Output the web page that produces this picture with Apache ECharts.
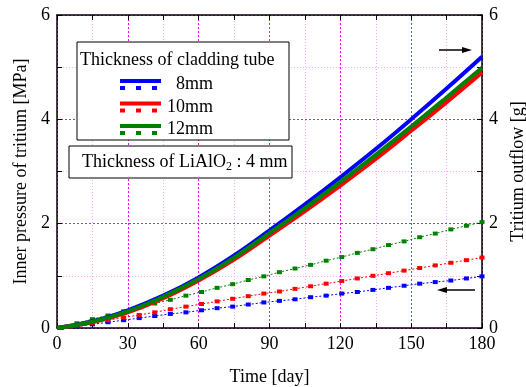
<!DOCTYPE html>
<html>
<head>
<meta charset="utf-8">
<script src="https://cdn.jsdelivr.net/npm/echarts@6/dist/echarts.min.js"></script>
<style>
  html, body { margin: 0; padding: 0; background: #fff; }
  #chart { width: 526px; height: 387px; }
</style>
</head>
<body>
<div id="chart"></div>
<script>
// tritium outflow [g] (solid lines, right axis)
const outflowDays = [0, 15, 30, 45, 60, 75, 90, 105, 120, 135, 150, 165, 180];
const outflow8 = [0, 0.13, 0.34, 0.62, 0.97, 1.39, 1.87, 2.37, 2.89, 3.43, 4.00, 4.59, 5.20];
const outflow10 = [0, 0.11, 0.30, 0.57, 0.91, 1.31, 1.77, 2.24, 2.73, 3.24, 3.78, 4.33, 4.90];
const outflow12 = [0, 0.12, 0.32, 0.60, 0.94, 1.35, 1.82, 2.30, 2.80, 3.32, 3.86, 4.42, 4.99];

// inner pressure [MPa] (dotted lines with square markers, left axis)
const pressureDays = [1.8, 8.4, 15, 21.6, 28.2, 34.8, 41.4, 48, 54.6, 61.2, 67.8, 74.4, 81, 87.6,
  94.2, 100.8, 107.4, 114, 120.6, 127.2, 133.8, 140.4, 147, 153.6, 160.2, 166.8, 173.4, 180];
const pressure8 = [0, 0.03, 0.07, 0.11, 0.15, 0.19, 0.23, 0.27, 0.30, 0.34, 0.38, 0.41, 0.45, 0.49,
  0.52, 0.55, 0.59, 0.62, 0.66, 0.69, 0.73, 0.77, 0.81, 0.85, 0.88, 0.91, 0.95, 0.99];
const pressure10 = [0, 0.05, 0.10, 0.15, 0.20, 0.25, 0.30, 0.36, 0.41, 0.46, 0.51, 0.56, 0.61, 0.66,
  0.70, 0.75, 0.80, 0.85, 0.90, 0.95, 1.00, 1.05, 1.10, 1.15, 1.20, 1.25, 1.30, 1.35];
const pressure12 = [0.01, 0.09, 0.17, 0.24, 0.32, 0.39, 0.47, 0.54, 0.62, 0.69, 0.77, 0.84, 0.92, 0.99,
  1.07, 1.14, 1.21, 1.29, 1.36, 1.44, 1.51, 1.59, 1.66, 1.74, 1.81, 1.89, 1.96, 2.03];

const thicknessLabels = ['8mm', '10mm', '12mm'];
const colors = ['#0000ff', '#ff0000', '#008000'];

const FONT = "'Liberation Serif', 'Times New Roman', serif";

const pair = (xs, ys) => xs.map((x, i) => [x, ys[i]]);

const majorGrid = { show: true, lineStyle: { color: '#ff00ff', type: [2, 2], width: 1 } };
const minorGrid = { show: true, lineStyle: { color: '#ffa8ff', type: [1, 2], width: 1 } };
const tick = { show: true, inside: true, length: 5, lineStyle: { color: '#000', width: 1 } };
const minor = { show: true, splitNumber: 2, length: 5, lineStyle: { color: '#000' } };
const axisLine = { show: true, onZero: false, lineStyle: { color: '#000', width: 1.5 } };
const label = { color: '#000', fontFamily: FONT, fontSize: 18 };
const nameStyle = { color: '#000', fontFamily: FONT, fontSize: 18 };

const chart = echarts.init(document.getElementById('chart'));

const solidSeries = [outflow8, outflow10, outflow12].map((d, i) => ({
  name: thicknessLabels[i] + ' outflow',
  type: 'line',
  yAxisIndex: 1,
  data: pair(outflowDays, d),
  smooth: 0.4,
  symbol: 'none',
  lineStyle: { color: colors[i], width: 4 },
  z: 3
}));

const dottedSeries = [pressure8, pressure10, pressure12].map((d, i) => ({
  name: thicknessLabels[i] + ' pressure',
  type: 'line',
  yAxisIndex: 0,
  data: pair(pressureDays, d),
  symbol: 'rect',
  symbolSize: [5, 4],
  itemStyle: { color: colors[i] },
  lineStyle: { color: colors[i], width: 1, type: [2, 2] },
  z: 2
}));

// legend boxes drawn with graphic elements
const legendGraphics = [
  { type: 'rect', shape: { x: 77, y: 42, width: 212, height: 98 },
    style: { fill: '#fff', stroke: '#000', lineWidth: 1 }, z: 10 },
  { type: 'text', x: 80, y: 60,
    style: { text: 'Thickness of cladding tube', font: '18px ' + FONT, fill: '#000', verticalAlign: 'middle' }, z: 11 },
  { type: 'rect', shape: { x: 69, y: 146, width: 223, height: 32 },
    style: { fill: '#fff', stroke: '#000', lineWidth: 1 }, z: 10 },
  { type: 'text', x: 82, y: 162,
    style: { rich: {
        a: { font: '18px ' + FONT, fill: '#000' },
        s: { font: '12px ' + FONT, fill: '#000', verticalAlign: 'bottom', padding: [10, 0, 0, 0] }
      },
      text: '{a|Thickness of LiAlO}{s|2}{a| : 4 mm}', verticalAlign: 'middle' }, z: 11 }
];
thicknessLabels.forEach((t, i) => {
  const y = 84.5 + i * 22.5;
  legendGraphics.push(
    { type: 'line', shape: { x1: 120, y1: y - 3.5, x2: 161, y2: y - 3.5 },
      style: { stroke: colors[i], lineWidth: 4 }, z: 11 },
    { type: 'line', shape: { x1: 120, y1: y + 3.5, x2: 161, y2: y + 3.5 },
      style: { stroke: colors[i], lineWidth: 4, lineDash: [5, 11] }, z: 11 },
    { type: 'text', x: 213, y: y,
      style: { text: t, font: '18px ' + FONT, fill: '#000', align: 'right', verticalAlign: 'middle' }, z: 11 }
  );
});

// arrows pointing to the relevant axes
const arrowGraphics = [
  { type: 'line', shape: { x1: 439, y1: 50, x2: 464, y2: 50 }, style: { stroke: '#000', lineWidth: 1.5 }, z: 11 },
  { type: 'polygon', shape: { points: [[472, 50], [462, 47], [462, 53]] }, style: { fill: '#000' }, z: 11 },
  { type: 'line', shape: { x1: 445, y1: 290, x2: 475, y2: 290 }, style: { stroke: '#000', lineWidth: 1.5 }, z: 11 },
  { type: 'polygon', shape: { points: [[437, 290], [447, 287], [447, 293]] }, style: { fill: '#000' }, z: 11 }
];

const option = {
  backgroundColor: '#fff',
  animation: false,
  grid: { left: 57, right: 44, top: 15, bottom: 59, containLabel: false, outerBoundsMode: 'none' },
  xAxis: [
    {
      type: 'value', min: 0, max: 180, interval: 30,
      name: 'Time [day]', nameLocation: 'middle', nameGap: 40, nameTextStyle: nameStyle,
      axisLine, axisTick: tick, minorTick: minor,
      axisLabel: { ...label, margin: 7 },
      splitLine: majorGrid,
      minorSplitLine: minorGrid
    },
    {
      type: 'value', position: 'top', min: 0, max: 180, interval: 30,
      axisLine, axisTick: tick, minorTick: minor,
      axisLabel: { show: false }, splitLine: { show: false }
    }
  ],
  yAxis: [
    {
      type: 'value', min: 0, max: 6, interval: 2,
      name: 'Inner pressure of tritium [MPa]', nameLocation: 'middle', nameGap: 27, nameTextStyle: nameStyle,
      axisLine, axisTick: tick, minorTick: minor,
      axisLabel: { ...label, margin: 7 },
      splitLine: majorGrid,
      minorSplitLine: minorGrid
    },
    {
      type: 'value', min: 0, max: 6, interval: 2, position: 'right',
      name: 'Tritium outflow [g]', nameLocation: 'middle', nameGap: 26, nameRotate: 90, nameTextStyle: nameStyle,
      axisLine, axisTick: tick, minorTick: minor,
      axisLabel: { ...label, margin: 7 },
      splitLine: { show: false }
    }
  ],
  series: [...dottedSeries, ...solidSeries],
  graphic: [...legendGraphics, ...arrowGraphics]
};

chart.setOption(option);
</script>
</body>
</html>
